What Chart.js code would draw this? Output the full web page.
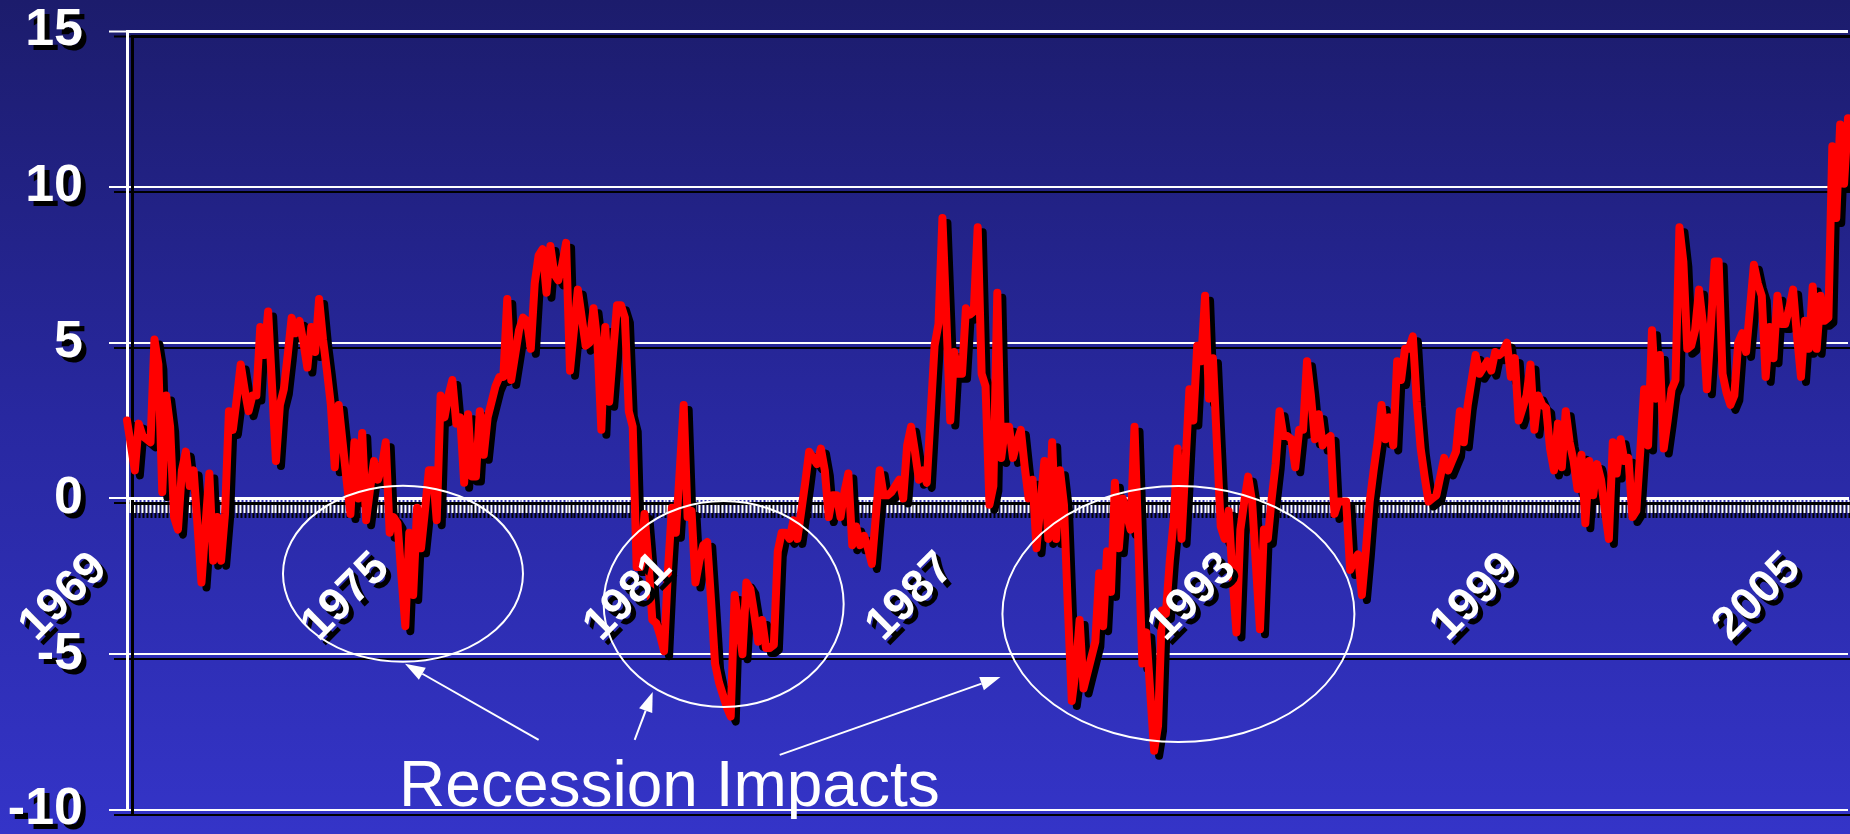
<!DOCTYPE html>
<html>
<head>
<meta charset="utf-8">
<script src="https://cdn.jsdelivr.net/npm/chart.js@4.4.1/dist/chart.umd.min.js"></script>
<style>
  html, body { margin: 0; padding: 0; }
  #wrap {
    width: 1850px; height: 834px;
    background: linear-gradient(to bottom, #1c1c6c 0%, #2828a0 50%, #3434c8 100%);
  }
  canvas { display: block; }
</style>
</head>
<body>
<div id="wrap"><canvas id="chart" width="1850" height="834"></canvas></div>
<script>
// Monthly series, January 1969 onward
const startYear = 1969;
const yearLabels = ['1969', '1975', '1981', '1987', '1993', '1999', '2005'];
const yTickValues = [-10, -5, 0, 5, 10, 15];

const values = [
  2.5, 1.7, 0.9, 2.4, 2.0, 1.9, 1.8, 5.1, 4.3, 0.2, 3.3, 2.3,          // 1969
  -0.6, -1.0, 0.9, 1.5, 0.4, 0.9, -0.9, -2.7, -0.9, 0.8, -2.0, -0.6,   // 1970
  -2.0, -0.5, 2.8, 2.2, 3.2, 4.3, 3.5, 2.8, 3.3, 3.3, 5.5, 4.6,        // 1971
  6.0, 3.6, 1.2, 3.0, 3.5, 4.6, 5.8, 5.3, 5.7, 5.0, 4.2, 5.5,          // 1972
  4.7, 6.4, 5.1, 4.1, 3.0, 1.0, 3.0, 1.8, 0.6, -0.5, 1.8, 0.0,         // 1973
  2.1, -0.7, 0.3, 1.2, 0.6, 1.0, 1.8, -1.1, -0.6, -0.8, -2.5, -4.1,    // 1974
  -1.1, -3.1, -0.3, -1.6, -0.4, 0.9, 0.9, -0.7, 3.3, 2.6, 3.3, 3.8,    // 1975
  2.4, 2.6, 0.5, 2.7, 0.7, 0.7, 2.8, 1.4, 2.6, 3.1, 3.6, 3.9,          // 1976
  3.9, 6.4, 3.8, 4.6, 5.4, 5.8, 5.7, 4.8, 6.9, 7.8, 8.0, 6.6,          // 1977
  8.1, 7.2, 7.0, 7.5, 8.2, 4.1, 5.4, 6.7, 5.8, 4.9, 5.0, 6.1,          // 1978
  5.0, 2.2, 5.5, 3.1, 4.7, 6.2, 6.2, 5.8, 2.8, 2.3, -2.2, -2.2,        // 1979
  -0.5, -2.0, -3.9, -4.0, -4.4, -4.9, -2.3, -0.3, -1.1, 0.9, 3.0, -0.6, // 1980
  -0.4, -2.7, -2.0, -1.5, -1.4, -3.3, -5.3, -5.9, -6.3, -6.7, -7.0, -3.1, // 1981
  -4.0, -5.0, -2.7, -2.9, -3.7, -4.6, -3.9, -4.8, -4.8, -4.7, -1.7, -1.1, // 1982
  -1.1, -1.3, -0.7, -1.3, -0.4, 0.5, 1.5, 1.3, 1.1, 1.6, 0.9, -0.6,    // 1983
  0.1, 0.1, -0.6, 0.2, 0.8, -1.5, -0.9, -1.5, -1.2, -1.6, -2.1, -0.6,  // 1984
  0.9, 0.1, 0.1, 0.2, 0.4, 0.6, 0.0, 1.7, 2.3, 1.5, 0.6, 0.9,          // 1985
  0.5, 2.7, 4.9, 5.6, 9.0, 5.8, 2.5, 4.7, 4.0, 4.0, 6.1, 5.9,          // 1986
  6.0, 8.7, 4.0, 3.6, -0.2, 0.4, 6.6, 1.3, 2.3, 2.3, 1.3, 1.8,         // 1987
  2.2, 1.0, 0.0, 0.6, -1.6, -0.2, 1.2, -1.3, 1.8, -1.3, 0.9, -0.2,     // 1988
  -3.5, -6.5, -5.5, -3.9, -6.1, -5.6, -5.1, -4.6, -2.4, -4.1, -1.7, -3.0, // 1989
  0.5, -1.6, 0.0, -0.5, -1.0, 2.3, -1.5, -5.3, -4.3, -6.2, -8.1, -7.3, // 1990
  -3.6, -3.7, -2.0, -0.7, 1.6, -1.3, 1.1, 3.5, 2.5, 4.9, 4.4, 6.5,     // 1991
  3.2, 4.5, 1.8, -0.9, -1.3, -0.4, -2.5, -4.3, -1.0, -0.1, 0.7, -0.1,  // 1992
  -2.2, -4.2, -1.0, -1.3, 0.0, 1.1, 2.8, 2.0, 2.0, 1.9, 1.0, 2.2,      // 1993
  2.2, 4.4, 3.3, 1.9, 2.7, 1.7, 1.9, 2.0, -0.5, -0.1, -0.1, -0.1,      // 1994
  -2.3, -2.0, -1.8, -3.1, -1.7, -0.1, 0.9, 1.8, 3.0, 1.9, 2.6, 1.7,    // 1995
  4.4, 3.8, 4.8, 4.8, 5.2, 3.1, 1.6, 0.7, -0.1, 0.0, 0.1, 0.7,         // 1996
  1.3, 0.9, 1.2, 1.5, 2.8, 1.8, 3.0, 3.8, 4.6, 4.0, 4.2, 4.4,          // 1997
  4.1, 4.7, 4.6, 4.7, 5.0, 3.9, 4.5, 2.5, 2.9, 3.3, 4.3, 2.2,          // 1998
  3.3, 3.0, 2.9, 1.6, 0.9, 2.4, 1.0, 2.8, 1.8, 1.2, 0.3, 1.4,          // 1999
  -0.8, 1.2, 0.1, 1.1, 0.6, -0.4, -1.3, 1.8, 0.8, 1.9, 1.2, 1.3,       // 2000
  -0.6, -0.4, 1.5, 3.5, 1.7, 5.4, 3.2, 4.6, 1.6, 2.5, 3.5, 3.8,        // 2001
  8.7, 7.6, 4.8, 4.9, 5.4, 6.7, 5.6, 3.5, 5.5, 7.6, 7.6, 4.0,          // 2002
  3.4, 3.0, 3.3, 5.0, 5.3, 4.7, 6.1, 7.5, 6.9, 6.5, 3.9, 5.5,          // 2003
  4.5, 6.5, 5.6, 5.6, 6.1, 6.7, 5.2, 3.9, 5.7, 4.8, 6.8, 4.8,          // 2004
  6.5, 5.7, 5.8, 11.3, 9.0, 12.0, 10.1, 12.2                           // 2005
];

// Category labels "YYYY-MM", one per monthly value
const months = values.map((_, i) =>
  (startYear + Math.floor(i / 12)) + '-' + String(i % 12 + 1).padStart(2, '0'));

// Recession call-outs, placed in data units (month index, value)
const recessionRings = [
  { month: 70.4,  value: -2.42, rx: 120, ry: 88 },
  { month: 152.2, value: -3.39, rx: 120, ry: 103 },
  { month: 268.2, value: -3.71, rx: 176, ry: 128 }
];
const pointers = [
  { from: [105.0, -7.75], to: [70.9, -5.31] },
  { from: [129.5, -7.75], to: [134.1, -6.21] },
  { from: [166.5, -8.23], to: [222.8, -5.73] }
];
const caption = { text: 'Recession Impacts', month: 69.4, value: -9.87 };

const FONT = '"Liberation Sans", Arial, Helvetica, sans-serif';

const shadowAndNotes = {
  id: 'shadowAndNotes',
  beforeDraw(chart) {
    const c = chart.ctx;
    c.shadowColor = '#000000';
    c.shadowOffsetX = 5;
    c.shadowOffsetY = 5;
    c.shadowBlur = 0;
  },
  afterDraw(chart) {
    const c = chart.ctx;
    const xs = chart.scales.x, ys = chart.scales.y;
    c.save();
    c.shadowColor = 'rgba(0,0,0,0)';
    c.shadowOffsetX = 0;
    c.shadowOffsetY = 0;
    c.strokeStyle = '#ffffff';
    c.fillStyle = '#ffffff';
    c.lineWidth = 2;

    recessionRings.forEach(r => {
      c.beginPath();
      c.ellipse(xs.getPixelForValue(r.month), ys.getPixelForValue(r.value), r.rx, r.ry, 0, 0, Math.PI * 2);
      c.stroke();
    });

    pointers.forEach(p => {
      const x1 = xs.getPixelForValue(p.from[0]), y1 = ys.getPixelForValue(p.from[1]);
      const x2 = xs.getPixelForValue(p.to[0]),   y2 = ys.getPixelForValue(p.to[1]);
      const ang = Math.atan2(y2 - y1, x2 - x1);
      const head = 20, half = 7;
      const bx = x2 - head * Math.cos(ang), by = y2 - head * Math.sin(ang);
      c.beginPath();
      c.moveTo(x1, y1);
      c.lineTo(bx, by);
      c.stroke();
      c.beginPath();
      c.moveTo(x2, y2);
      c.lineTo(bx + half * Math.sin(ang), by - half * Math.cos(ang));
      c.lineTo(bx - half * Math.sin(ang), by + half * Math.cos(ang));
      c.closePath();
      c.fill();
    });

    c.font = '64px ' + FONT;
    c.textAlign = 'left';
    c.textBaseline = 'alphabetic';
    c.fillText(caption.text, xs.getPixelForValue(caption.month), ys.getPixelForValue(caption.value));
    c.restore();

    c.shadowColor = 'rgba(0,0,0,0)';
    c.shadowOffsetX = 0;
    c.shadowOffsetY = 0;
  }
};

new Chart(document.getElementById('chart'), {
  type: 'line',
  data: {
    labels: months,
    datasets: [{
      data: values,
      borderColor: '#ff0000',
      borderWidth: 8,
      pointRadius: 0,
      tension: 0,
      borderJoinStyle: 'round',
      borderCapStyle: 'round',
      fill: false
    }]
  },
  options: {
    responsive: false,
    animation: false,
    devicePixelRatio: 1,
    events: [],
    layout: { padding: { top: 31, bottom: 24, left: 0, right: 2 } },
    plugins: { legend: { display: false }, tooltip: { enabled: false } },
    scales: {
      y: {
        position: 'left',
        min: -10,
        max: 15,
        afterBuildTicks(scale) { scale.ticks = yTickValues.map(v => ({ value: v })); },
        ticks: {
          color: '#ffffff',
          padding: 26,
          font: { family: FONT, size: 52, weight: 'bold' }
        },
        grid: {
          color: '#ffffff',
          lineWidth: ctx => (ctx.tick && ctx.tick.value === 15 ? 3 : 2),
          tickLength: 18,
          tickColor: '#ffffff',
          tickWidth: 2
        },
        border: { display: true, color: '#ffffff', width: 3 },
        afterFit(scale) {
          scale.width = 127;
          scale.paddingTop = 0;
          scale.paddingBottom = 0;
        }
      },
      x: {
        type: 'category',
        position: { y: 0 },
        offset: false,
        ticks: {
          z: 1,
          autoSkip: false,
          minRotation: 45,
          maxRotation: 45,
          padding: 3,
          color: '#ffffff',
          font: { family: FONT, size: 46, weight: 'bold' },
          callback(value, index) {
            const lbl = this.getLabelForValue(value);
            const yr = lbl.slice(0, 4);
            return (lbl.endsWith('-01') && yearLabels.includes(yr)) ? yr + '   ' : '';
          }
        },
        grid: {
          drawOnChartArea: false,
          drawTicks: true,
          tickLength: 13,
          tickColor: '#ffffff',
          tickWidth: 2,
          offset: false
        },
        border: { display: true, color: '#ffffff', width: 3 },
        afterFit(scale) {
          scale.paddingLeft = 0;
          scale.paddingRight = 0;
        }
      }
    }
  },
  plugins: [shadowAndNotes]
});
</script>
</body>
</html>
